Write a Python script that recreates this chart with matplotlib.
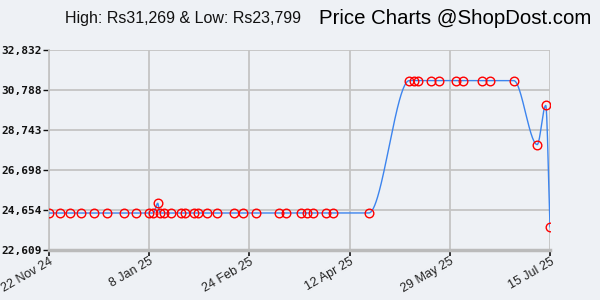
import numpy as np
import matplotlib
matplotlib.use("Agg")
import matplotlib.pyplot as plt
import matplotlib.dates as mdates
from matplotlib.transforms import ScaledTranslation
from datetime import datetime

dates = ["2024-11-22", "2024-11-27", "2024-12-02", "2024-12-07", "2024-12-13",
         "2024-12-19", "2024-12-27", "2025-01-02", "2025-01-08", "2025-01-10",
         "2025-01-12", "2025-01-13", "2025-01-15", "2025-01-18", "2025-01-23",
         "2025-01-25", "2025-01-29", "2025-01-31", "2025-02-04", "2025-02-09",
         "2025-02-17", "2025-02-21", "2025-02-27", "2025-03-10", "2025-03-13",
         "2025-03-20", "2025-03-23", "2025-03-26", "2025-04-01", "2025-04-04",
         "2025-04-21", "2025-05-10", "2025-05-12", "2025-05-14", "2025-05-20",
         "2025-05-24", "2025-06-01", "2025-06-04", "2025-06-13", "2025-06-17",
         "2025-06-28", "2025-07-09", "2025-07-13", "2025-07-15"]
prices = [24499, 24499, 24499, 24499, 24499,
          24499, 24499, 24499, 24499, 24499,
          24999, 24499, 24499, 24499, 24499,
          24499, 24499, 24499, 24499, 24499,
          24499, 24499, 24499, 24499, 24499,
          24499, 24499, 24499, 24499, 24499,
          24499, 31269, 31269, 31269, 31269,
          31269, 31269, 31269, 31269, 31269,
          31269, 27999, 29999, 23799]
ytick_values = [22609, 24654, 26698, 28743, 30788, 32832]
ytick_labels = ["22,609", "24,654", "26,698", "28,743", "30,788", "32,832"]
xtick_dates = ["2024-11-22", "2025-01-08", "2025-02-24", "2025-04-12", "2025-05-29", "2025-07-15"]
xtick_labels = ["22 Nov 24", "8 Jan 25", "24 Feb 25", "12 Apr 25", "29 May 25", "15 Jul 25"]
title_left = "High: Rs31,269 & Low: Rs23,799"
title_right = "Price Charts @ShopDost.com"

x = mdates.date2num([datetime.strptime(d, "%Y-%m-%d") for d in dates])
y = np.array(prices, dtype=float)

# monotone cubic (Fritsch-Carlson) smoothing for the drawn line
def pchip(xk, yk, xs):
    h = np.diff(xk)
    d = np.diff(yk) / h
    n = len(xk)
    m = np.zeros(n)
    for i in range(1, n - 1):
        if d[i - 1] * d[i] <= 0:
            m[i] = 0
        else:
            w1 = 2 * h[i] + h[i - 1]
            w2 = h[i] + 2 * h[i - 1]
            m[i] = (w1 + w2) / (w1 / d[i - 1] + w2 / d[i])
    m[0] = d[0]
    m[-1] = d[-1]
    idx = np.clip(np.searchsorted(xk, xs) - 1, 0, n - 2)
    t = (xs - xk[idx]) / h[idx]
    h00 = 2 * t**3 - 3 * t**2 + 1
    h10 = t**3 - 2 * t**2 + t
    h01 = -2 * t**3 + 3 * t**2
    h11 = t**3 - t**2
    return h00 * yk[idx] + h10 * h[idx] * m[idx] + h01 * yk[idx + 1] + h11 * h[idx] * m[idx + 1]

xs = np.linspace(x[0], x[-1], 2000)
xs = np.unique(np.concatenate([xs, x]))
ys = pchip(x, y, xs)

bg = "#eef1f5"
fig = plt.figure(figsize=(6, 3), dpi=100, facecolor=bg)
ax = fig.add_axes([49 / 600, 1 - 250 / 300, 501 / 600, 200 / 300], facecolor=bg)

ax.plot(xs, ys, color="#3c84ee", lw=1.0, zorder=3)
ax.plot(x, y, linestyle="none", marker="o", ms=6.2, mfc="none", mec="#ff0000", mew=1.0, zorder=4)

ax.set_ylim(ytick_values[0], ytick_values[-1])
ax.set_xlim(x[0], x[-1])
ax.set_yticks(ytick_values)
ax.set_yticklabels(ytick_labels, family="DejaVu Sans Mono", fontweight="bold", fontsize=8, color="#111111")
xt = mdates.date2num([datetime.strptime(d, "%Y-%m-%d") for d in xtick_dates])
ax.set_xticks(xt)
ax.set_xticklabels(xtick_labels, rotation=30, ha="right", va="top", rotation_mode="anchor",
                   family="Liberation Sans", fontsize=9, color="#222222")
offset = ScaledTranslation(9 / 100, 0, fig.dpi_scale_trans)
for lab in ax.get_xticklabels():
    lab.set_transform(lab.get_transform() + offset)
ax.tick_params(axis="x", length=4, width=1.2, color="#111111", pad=0)
ax.tick_params(axis="y", length=4, width=1.0, color="#111111", pad=1)

ax.grid(True, color="#c4c4c4", lw=1.3)
ax.set_axisbelow(True)
for s in ["top", "right"]:
    ax.spines[s].set_visible(False)
ax.spines["left"].set_color("#c4c4c4")
ax.spines["left"].set_linewidth(1.3)
ax.spines["bottom"].set_color("#bbbbbb")
ax.spines["bottom"].set_linewidth(2.5)

fig.text(183 / 600, 1 - 19 / 300, title_left, family="Liberation Sans", fontsize=11.5,
         ha="center", va="center", color="#111111")
fig.text(455 / 600, 1 - 19 / 300, title_right, family="Liberation Sans", fontsize=14.7,
         ha="center", va="center", color="#000000")

fig.savefig("out.png", dpi=100, facecolor=bg)
